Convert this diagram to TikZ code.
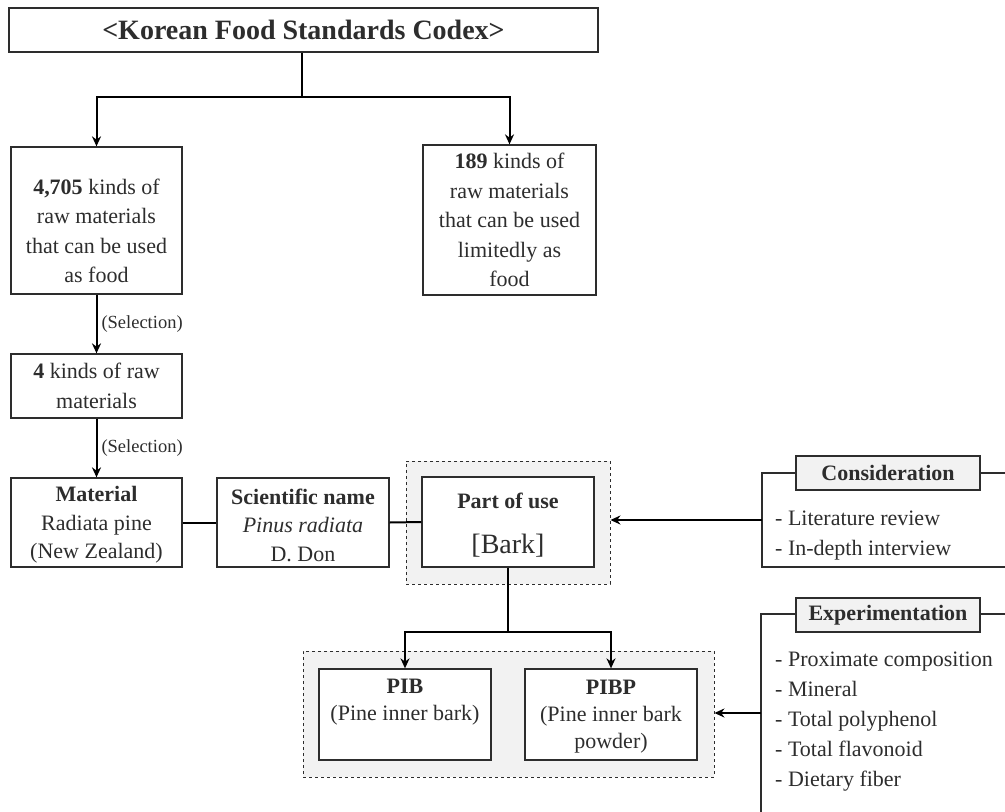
\documentclass[tikz,border=0pt]{standalone}
\usepackage{fontspec}
\setmainfont{Liberation Serif}
\usetikzlibrary{arrows.meta}
\definecolor{ink}{RGB}{45,45,45}
\definecolor{panel}{RGB}{242,242,242}
\begin{document}
\begin{tikzpicture}[x=1pt,y=-1pt,
  every node/.style={text=ink},
  box/.style={draw=ink,line width=1.3pt,fill=white,align=center,inner sep=0pt,
    font=\fontsize{22}{29.5}\selectfont},
  txt/.style={align=center,inner sep=0pt,font=\fontsize{22}{29.5}\selectfont},
  panelbox/.style={draw=ink,dashed,line width=0.9pt,fill=panel,inner sep=0pt},
  headbox/.style={draw=ink,line width=1.3pt,fill=panel,inner sep=0pt,
    minimum width=184pt,minimum height=34pt,font=\fontsize{22}{25}\selectfont\bfseries},
  conn/.style={draw=black,line width=2pt},
  arr/.style={conn,-{Stealth[length=10pt,width=9pt]}},
  brk/.style={draw=ink,line width=1.3pt},
  item/.style={anchor=base west,inner sep=0pt,font=\fontsize{22}{25}\selectfont},
  sel/.style={anchor=west,inner sep=0pt,font=\fontsize{18.5}{20}\selectfont}]
\useasboundingbox (0,0) rectangle (1005,812);

% top
\node[box,minimum width=589pt,minimum height=44pt,font=\fontsize{28}{30}\selectfont\bfseries] (top) at (303.5,30) {<Korean Food Standards Codex>};
\node[box,minimum width=171pt,minimum height=147pt] (a) at (96.5,220.5) {};
\node[txt] (at) at (96.5,231) {\textbf{4,705} kinds of\\raw materials\\that can be used\\as food};
\node[box,minimum width=173pt,minimum height=150pt] (b) at (509.5,220) {\textbf{189} kinds of\\raw materials\\that can be used\\limitedly as\\food};
\coordinate (split) at (302,97);
\draw[conn] (top.south -| split) -- (split);
\draw[arr] (split) -| (a.north);
\draw[arr] (split) -| (b.north);

\node[box,minimum width=171pt,minimum height=64pt] (c) at (96.5,386) {\textbf{4} kinds of raw\\materials};
\draw[arr] (a.south) -- node[sel,right=4pt] (s1) {(Selection)} (c.north);

\node[box,minimum width=171pt,minimum height=89pt] (d) at (96.5,522.5) {};
\node[txt,font=\fontsize{22}{28.5}\selectfont] (dt) at (96.5,525) {\textbf{Material}\\Radiata pine\\(New Zealand)};
\draw[arr] (c.south) -- node[sel,right=4pt] (s2) {(Selection)} (d.north);

\node[box,minimum width=172pt,minimum height=89pt] (e) at (303,522.5) {};
\node[txt,font=\fontsize{22}{28.5}\selectfont] (et) at (303,525) {\textbf{Scientific name}\\\textit{Pinus radiata}\\D. Don};

\node[panelbox,minimum width=204pt,minimum height=123pt] (fp) at (508,522.5) {};
\node[box,minimum width=172pt,minimum height=90pt] (f) at (508,522) {};
\node[txt,font=\fontsize{22}{45}\selectfont] (ft) at (508,525) {\textbf{Part of use}\\{\fontsize{28}{30}\selectfont[Bark]}};

\draw[conn] (d.east) -- (e.west);
\draw[conn] (e.east) -- (f.west);

% bottom
\node[panelbox,minimum width=411pt,minimum height=126pt] (gp) at (508.5,714) {};
\node[box,minimum width=172pt,minimum height=91pt] (g) at (405,714.5) {};
\node[txt,font=\fontsize{22}{27}\selectfont] (gt) at (405,702.5) {\textbf{PIB}\\(Pine inner bark)};
\node[box,minimum width=172pt,minimum height=91pt] (h) at (611,714.5) {};
\node[txt,font=\fontsize{22}{27}\selectfont] (ht) at (611,716.5) {\textbf{PIBP}\\(Pine inner bark\\powder)};
\coordinate (split2) at (508,632);
\draw[conn] (f.south) -- (split2);
\draw[arr] (split2) -| (g.north);
\draw[arr] (split2) -| (h.north);

% consideration
\coordinate (c1) at (762,473);
\coordinate (c2) at (762,567);
\coordinate (c3) at (1005,567);
\coordinate (c4) at (1005,473);
\draw[brk] (c4) -- (c1) -- (c2) -- (c3);
\node[headbox] (ch) at (888,473) {Consideration};
\node[item] (ci1) at (775,525.5) {- Literature review};
\node[item] (ci2) at (775,555.5) {- In-depth interview};
\coordinate (ca) at (762,520);
\draw[arr] (ca) -- (ca -| fp.east);

% experimentation
\coordinate (e1) at (761,614);
\coordinate (e2) at (761,812);
\coordinate (e4) at (1005,614);
\draw[brk] (e4) -- (e1) -- (e2);
\node[headbox] (eh) at (888,615) {Experimentation};
\node[item] (ei1) at (775,666.5) {- Proximate composition};
\node[item] (ei2) at (775,696.5) {- Mineral};
\node[item] (ei3) at (775,726.5) {- Total polyphenol};
\node[item] (ei4) at (775,756.5) {- Total flavonoid};
\node[item] (ei5) at (775,786.5) {- Dietary fiber};
\coordinate (ea) at (761,713);
\draw[arr] (ea) -- (ea -| gp.east);
\end{tikzpicture}
\end{document}
